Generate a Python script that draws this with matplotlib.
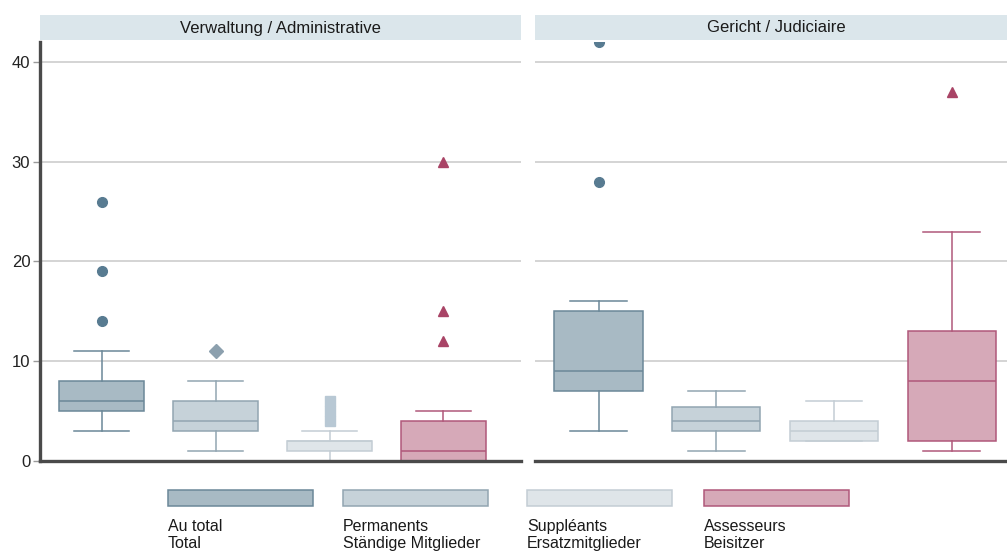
import matplotlib
matplotlib.use("Agg")
import matplotlib.pyplot as plt
from matplotlib.patches import Rectangle

plt.rcParams["font.family"] = ["Liberation Sans", "DejaVu Sans"]

# data (values per box)
panels = ["Verwaltung / Administrative", "Gericht / Judiciaire"]
groups = ["Au total\nTotal", "Permanents\nStändige Mitglieder",
          "Suppléants\nErsatzmitglieder", "Assesseurs\nBeisitzer"]

# Verwaltung
adm_whislo = [3, 1, 0, 0]
adm_q1 = [5, 3, 1, 0]
adm_med = [6, 4, 2, 1]
adm_q3 = [8, 6, 2, 4]
adm_whishi = [11, 8, 3, 5]
adm_fliers = [[14, 19, 26], [11], [4, 5, 6], [12, 15, 30]]

# Gericht
jud_whislo = [3, 1, 2, 1]
jud_q1 = [7, 3, 2, 2]
jud_med = [9, 4, 3, 8]
jud_q3 = [15, 5.4, 4, 13]
jud_whishi = [16, 7, 6, 23]
jud_fliers = [[28, 42], [], [], [37]]

yticks = [0, 10, 20, 30, 40]

fills = ["#a8bac4", "#c6d2d9", "#dfe5e9", "#d6a9b8"]
edges = ["#6b8898", "#92a5b1", "#c3cdd4", "#b0587a"]
flier_colors = ["#587b91", "#8ca0ae", "#b8c8d4", "#a94466"]
flier_markers = ["o", "D", "s", "^"]

fig = plt.figure(figsize=(10.07, 5.54), dpi=100)
W, H = 1007, 554


def fx(px):
    return px / W


def fy(py):
    return 1 - py / H


ax_specs = [
    (40, 521, -0.54, 3.68),
    (535, 1007, -0.54, 3.47),
]
data = [
    (adm_whislo, adm_q1, adm_med, adm_q3, adm_whishi, adm_fliers),
    (jud_whislo, jud_q1, jud_med, jud_q3, jud_whishi, jud_fliers),
]

for i, (x0, x1, xl, xr) in enumerate(ax_specs):
    ax = fig.add_axes([fx(x0), fy(461), fx(x1 - x0), fy(42) - fy(461)])
    wlo, q1, med, q3, whi, fl = data[i]
    for j in range(4):
        st = [dict(whislo=wlo[j], q1=q1[j], med=med[j], q3=q3[j],
                   whishi=whi[j], fliers=fl[j])]
        ax.bxp(st, positions=[j], widths=0.75, capwidths=0.48,
               patch_artist=True, showfliers=True,
               boxprops=dict(facecolor=fills[j], edgecolor=edges[j], linewidth=1.1),
               medianprops=dict(color=edges[j], linewidth=1.1),
               whiskerprops=dict(color=edges[j], linewidth=1.1),
               capprops=dict(color=edges[j], linewidth=1.1),
               flierprops=dict(marker=flier_markers[j],
                               markerfacecolor=flier_colors[j],
                               markeredgecolor=flier_colors[j],
                               markersize=7 if j != 3 else 7.5,
                               linestyle="none"))
    ax.set_xlim(xl, xr)
    ax.set_ylim(0, 42)
    ax.set_yticks(yticks)
    ax.set_xticks([])
    ax.yaxis.grid(True, color="#c9c9c9", linewidth=1.1)
    ax.set_axisbelow(True)
    for s in ["top", "right"]:
        ax.spines[s].set_visible(False)
    ax.spines["bottom"].set_color("#4a4a4a")
    ax.spines["bottom"].set_linewidth(2.4)
    if i == 0:
        ax.spines["left"].set_color("#4a4a4a")
        ax.spines["left"].set_linewidth(2.4)
        ax.tick_params(axis="y", length=5, width=1, color="#9a9a9a",
                       labelsize=12, labelcolor="#222222", pad=2)
    else:
        ax.spines["left"].set_visible(False)
        ax.tick_params(axis="y", length=0, labelleft=False)
    # strip header
    fig.patches.append(Rectangle((fx(x0), fy(40)), fx(x1 - x0), fy(15) - fy(40),
                                 transform=fig.transFigure, facecolor="#dbe6eb",
                                 edgecolor="none", zorder=0))
    fig.text(fx((x0 + x1) / 2 if i == 0 else 776), fy(28), panels[i],
             ha="center", va="center", fontsize=12, color="#1a1a1a")

# legend
leg_x = [168, 343, 527, 704]
for j in range(4):
    fig.patches.append(Rectangle((fx(leg_x[j]), fy(506)), fx(145), fy(490) - fy(506),
                                 transform=fig.transFigure, facecolor=fills[j],
                                 edgecolor=edges[j], linewidth=1.1))
    fig.text(fx(leg_x[j]), fy(519), groups[j], ha="left", va="top",
             fontsize=11.5, color="#1a1a1a", linespacing=1.2)

fig.savefig("out.png", dpi=100)
